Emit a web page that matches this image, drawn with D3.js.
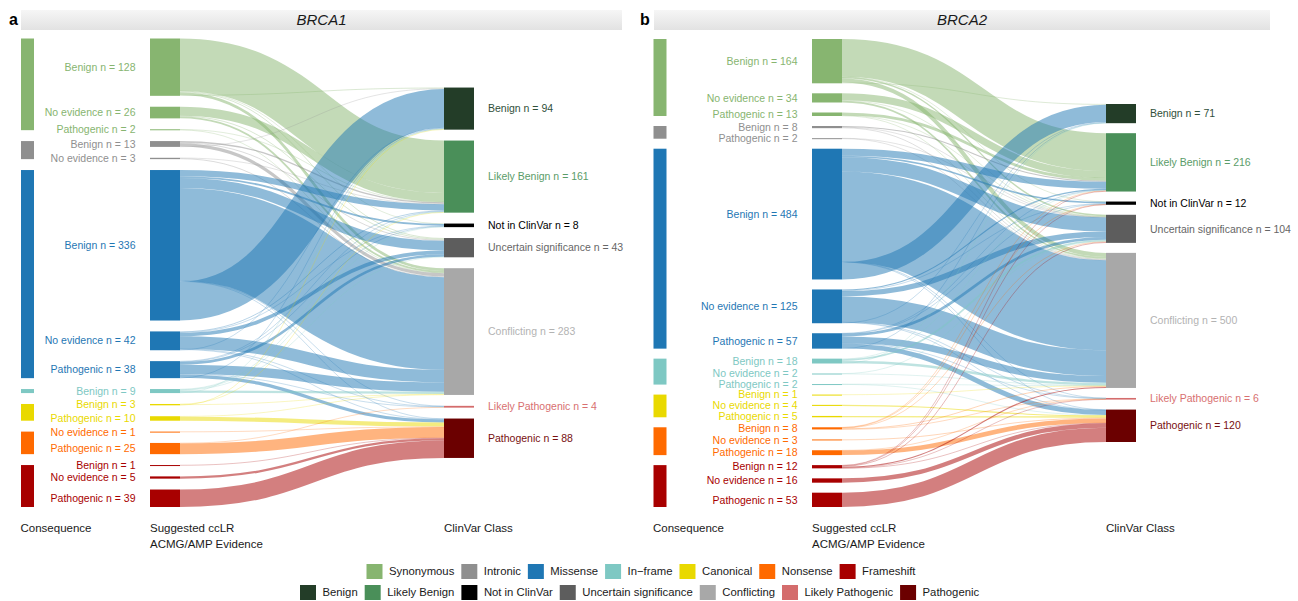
<!DOCTYPE html>
<html><head><meta charset="utf-8">
<script src="https://cdn.jsdelivr.net/npm/d3@7"></script>
<style>
body{margin:0;background:#fff}
text{font-family:"Liberation Sans",Arial,Helvetica,sans-serif}
</style>
</head><body>
<svg id="chart" width="1298" height="601"></svg>
<script>
// ---------- data ----------
const consequences = ["Synonymous","Intronic","Missense","In-frame","Canonical","Nonsense","Frameshift"];
const consequenceLegendLabels = ["Synonymous","Intronic","Missense","In\u2212frame","Canonical","Nonsense","Frameshift"];
const consequenceColors = ["#87b570","#8f8f8f","#1f77b4","#7ec8c3","#e9d900","#ff6a00","#a80000"];
const clinvarClasses = ["Benign","Likely Benign","Not in ClinVar","Uncertain significance","Conflicting","Likely Pathogenic","Pathogenic"];
const clinvarColors = ["#233d28","#4a8f59","#000000","#5d5d5d","#a8a8a8","#d46c6c","#6b0000"];
const clinvarTextColors = ["#30503a","#5a9c68","#000000","#666666","#b3b3b3","#d87070","#781010"];
// order in which each evidence node's outgoing flows are stacked (ClinVar class index)
const sourceStackOrder = [1,2,3,4,5,6,0];

// BRCA1: evidence nodes (consequence, suggested evidence) and flows to ClinVar classes
const brca1Consequence = ["Synonymous","Synonymous","Synonymous","Intronic","Intronic","Missense","Missense","Missense","In-frame","Canonical","Canonical","Nonsense","Nonsense","Frameshift","Frameshift","Frameshift"];
const brca1Evidence = ["Benign","No evidence","Pathogenic","Benign","No evidence","Benign","No evidence","Pathogenic","Benign","Benign","Pathogenic","No evidence","Pathogenic","Benign","No evidence","Pathogenic"];
// columns: Benign, Likely Benign, Not in ClinVar, Uncertain, Conflicting, Likely Pathogenic, Pathogenic
const brca1Flows = [
  [2,117,1,2,6,0,0],
  [0,20,0,2,4,0,0],
  [0,1,0,0,1,0,0],
  [1,3,0,2,7,0,0],
  [0,1,0,0,2,0,0],
  [87,14,4,22,207,1,1],
  [1,2,1,8,28,1,1],
  [1,1,1,6,21,1,7],
  [1,1,1,1,5,0,0],
  [1,1,0,0,1,0,0],
  [0,0,0,0,1,0,9],
  [0,0,0,0,0,0,1],
  [0,0,0,0,0,1,24],
  [0,0,0,0,0,0,1],
  [0,0,0,0,0,0,5],
  [0,0,0,0,0,0,39]
];

const brca2Consequence = ["Synonymous","Synonymous","Synonymous","Intronic","Intronic","Missense","Missense","Missense","In-frame","In-frame","In-frame","Canonical","Canonical","Canonical","Nonsense","Nonsense","Nonsense","Frameshift","Frameshift","Frameshift"];
const brca2Evidence = ["Benign","No evidence","Pathogenic","Benign","Pathogenic","Benign","No evidence","Pathogenic","Benign","No evidence","Pathogenic","Benign","No evidence","Pathogenic","Benign","No evidence","Pathogenic","Benign","No evidence","Pathogenic"];
const brca2Flows = [
  [3,140,1,5,15,0,0],
  [0,26,0,2,6,0,0],
  [0,10,0,1,2,0,0],
  [0,4,0,1,3,0,0],
  [0,0,0,1,1,0,0],
  [64,26,6,52,334,1,1],
  [2,4,2,20,95,1,1],
  [1,1,1,10,25,1,18],
  [1,2,0,6,9,0,0],
  [0,0,0,1,1,0,0],
  [0,0,0,0,1,0,1],
  [0,0,0,0,1,0,0],
  [0,0,0,0,0,0,4],
  [0,0,0,0,0,0,5],
  [0,1,1,2,3,1,0],
  [0,0,0,0,0,0,3],
  [0,0,0,0,0,1,17],
  [0,2,1,3,4,1,1],
  [0,0,0,0,0,0,16],
  [0,0,0,0,0,0,53]
];

// ---------- drawing ----------
const svg = d3.select("#chart");
svg.append("rect").attr("width",1298).attr("height",601).attr("fill","#fff");
const defs = svg.append("defs");
const grad = defs.append("linearGradient").attr("id","strip").attr("x1",0).attr("y1",0).attr("x2",0).attr("y2",1);
grad.append("stop").attr("offset","0%").attr("stop-color","#f6f6f6");
grad.append("stop").attr("offset","100%").attr("stop-color","#e2e2e2");

const consColor = d3.scaleOrdinal().domain(consequences).range(consequenceColors);
const cvColor = d3.scaleOrdinal().domain(clinvarClasses).range(clinvarColors);
const cvTextColor = d3.scaleOrdinal().domain(clinvarClasses).range(clinvarTextColors);

const panels = [
  {letter:"a", gene:"BRCA1", letterX:9, stripX0:21, stripX1:622, consX:21, evX:150, cvX:444, top:38.5, bottom:507, pad:10.9,
   cons:brca1Consequence, evid:brca1Evidence, flows:brca1Flows},
  {letter:"b", gene:"BRCA2", letterX:640, stripX0:654, stripX1:1270, consX:653.5, evX:812, cvX:1106, top:39, bottom:507, pad:10,
   cons:brca2Consequence, evid:brca2Evidence, flows:brca2Flows}
];
const consW = 13, nodeW = 30;

panels.forEach(cfg => {
  const g = svg.append("g");
  // strip
  g.append("rect").attr("x",cfg.stripX0).attr("y",10).attr("width",cfg.stripX1-cfg.stripX0).attr("height",20).attr("fill","url(#strip)");
  g.append("text").attr("x",(cfg.stripX0+cfg.stripX1)/2).attr("y",25).attr("text-anchor","middle")
    .attr("font-size","15px").attr("font-style","italic").attr("fill","#1a1a1a").text(cfg.gene);
  g.append("text").attr("x",cfg.letterX).attr("y",25).attr("font-size","16px").attr("font-weight","bold").attr("fill","#000").text(cfg.letter);

  const flows = cfg.flows;
  const evVals = flows.map(r => d3.sum(r));
  const cvVals = clinvarClasses.map((_, j) => d3.sum(flows, r => r[j]));
  const total = d3.sum(evVals);
  const H = cfg.bottom - cfg.top;
  const ky = d3.min([evVals.length, cvVals.length], n => (H - (n - 1) * cfg.pad) / total);
  const size = d3.scaleLinear().domain([0, total]).range([0, total * ky]);
  function stack(vals) {
    const colH = size(total) + (vals.length - 1) * cfg.pad;
    let y = cfg.top + (H - colH) / 2;
    return vals.map(v => { const n = {value:v, y0:y, y1:y + size(v)}; y = n.y1 + cfg.pad; return n; });
  }
  const evNodes = stack(evVals);
  evNodes.forEach((n, i) => { n.cons = cfg.cons[i]; n.label = cfg.evid[i]; n.x0 = cfg.evX; n.x1 = cfg.evX + nodeW; });
  const cvNodes = stack(cvVals);
  cvNodes.forEach((n, j) => { n.cls = clinvarClasses[j]; n.x0 = cfg.cvX; n.x1 = cfg.cvX + nodeW; });

  const links = [];
  flows.forEach((row, i) => row.forEach((v, j) => { if (v > 0) links.push({i, j, v, w: size(v)}); }));
  const sOff = evNodes.map(n => n.y0), tOff = cvNodes.map(n => n.y0);
  links.slice().sort((a, b) => a.i - b.i || sourceStackOrder.indexOf(a.j) - sourceStackOrder.indexOf(b.j))
    .forEach(l => { l.sy = sOff[l.i] + l.w / 2; sOff[l.i] += l.w; });
  links.forEach(l => { l.ty = tOff[l.j] + l.w / 2; tOff[l.j] += l.w; });

  const linkGen = d3.linkHorizontal();
  g.append("g").attr("fill","none").selectAll("path").data(links).join("path")
    .attr("d", l => linkGen({source:[evNodes[l.i].x1, l.sy], target:[cvNodes[l.j].x0, l.ty]}))
    .attr("stroke", l => consColor(evNodes[l.i].cons))
    .attr("stroke-opacity", l => l.w < 1 ? 0.35 : 0.5)
    .attr("stroke-width", l => Math.max(l.w, 0.7));

  // consequence bars spanning their evidence nodes
  const consBars = consequences.map(c => {
    const ns = evNodes.filter(n => n.cons === c);
    return ns.length ? {c, y0: d3.min(ns, n => n.y0), y1: d3.max(ns, n => n.y1)} : null;
  }).filter(Boolean);
  g.append("g").selectAll("rect").data(consBars).join("rect")
    .attr("x", cfg.consX).attr("width", consW)
    .attr("y", d => d.y0).attr("height", d => Math.max(d.y1 - d.y0, 1))
    .attr("fill", d => consColor(d.c));

  // evidence nodes
  g.append("g").selectAll("rect").data(evNodes).join("rect")
    .attr("x", n => n.x0).attr("width", nodeW)
    .attr("y", n => n.y0).attr("height", n => Math.max(n.y1 - n.y0, 1))
    .attr("fill", n => consColor(n.cons));
  g.append("g").selectAll("text").data(evNodes).join("text")
    .attr("x", n => n.x0 - 14.5).attr("y", n => (n.y0 + n.y1) / 2).attr("dy","0.35em")
    .attr("text-anchor","end").attr("font-size","10.5px")
    .attr("fill", n => consColor(n.cons))
    .text(n => `${n.label} n = ${n.value}`);

  // ClinVar nodes
  g.append("g").selectAll("rect").data(cvNodes).join("rect")
    .attr("x", n => n.x0).attr("width", nodeW)
    .attr("y", n => n.y0).attr("height", n => Math.max(n.y1 - n.y0, 1))
    .attr("fill", n => cvColor(n.cls));
  g.append("g").selectAll("text").data(cvNodes).join("text")
    .attr("x", n => n.x1 + 14).attr("y", n => (n.y0 + n.y1) / 2).attr("dy","0.35em")
    .attr("font-size","10.5px")
    .attr("fill", n => cvTextColor(n.cls))
    .text(n => `${n.cls} n = ${n.value}`);

  // column titles
  const t = g.append("g").attr("font-size","11.5px").attr("fill","#1a1a1a");
  t.append("text").attr("x", cfg.consX - 0.5).attr("y", 532).text("Consequence");
  t.append("text").attr("x", cfg.evX).attr("y", 532).text("Suggested ccLR");
  t.append("text").attr("x", cfg.evX).attr("y", 547.5).text("ACMG/AMP Evidence");
  t.append("text").attr("x", cfg.cvX).attr("y", 532).text("ClinVar Class");
});

// ---------- legend ----------
function legendRow(labels, colors, startX, y) {
  const g = svg.append("g");
  let x = startX;
  labels.forEach((lab, i) => {
    g.append("rect").attr("x", x).attr("y", y).attr("width", 16).attr("height", 15).attr("fill", colors[i]);
    const tx = g.append("text").attr("x", x + 22.5).attr("y", y + 7.5).attr("dy","0.35em")
      .attr("font-size","11.3px").attr("fill","#1a1a1a").text(lab);
    x = x + 22.5 + tx.node().getComputedTextLength() + 7;
  });
}
legendRow(consequenceLegendLabels, consequenceColors, 366.5, 564);
legendRow(clinvarClasses, clinvarColors, 300, 585);
</script>
</body></html>
